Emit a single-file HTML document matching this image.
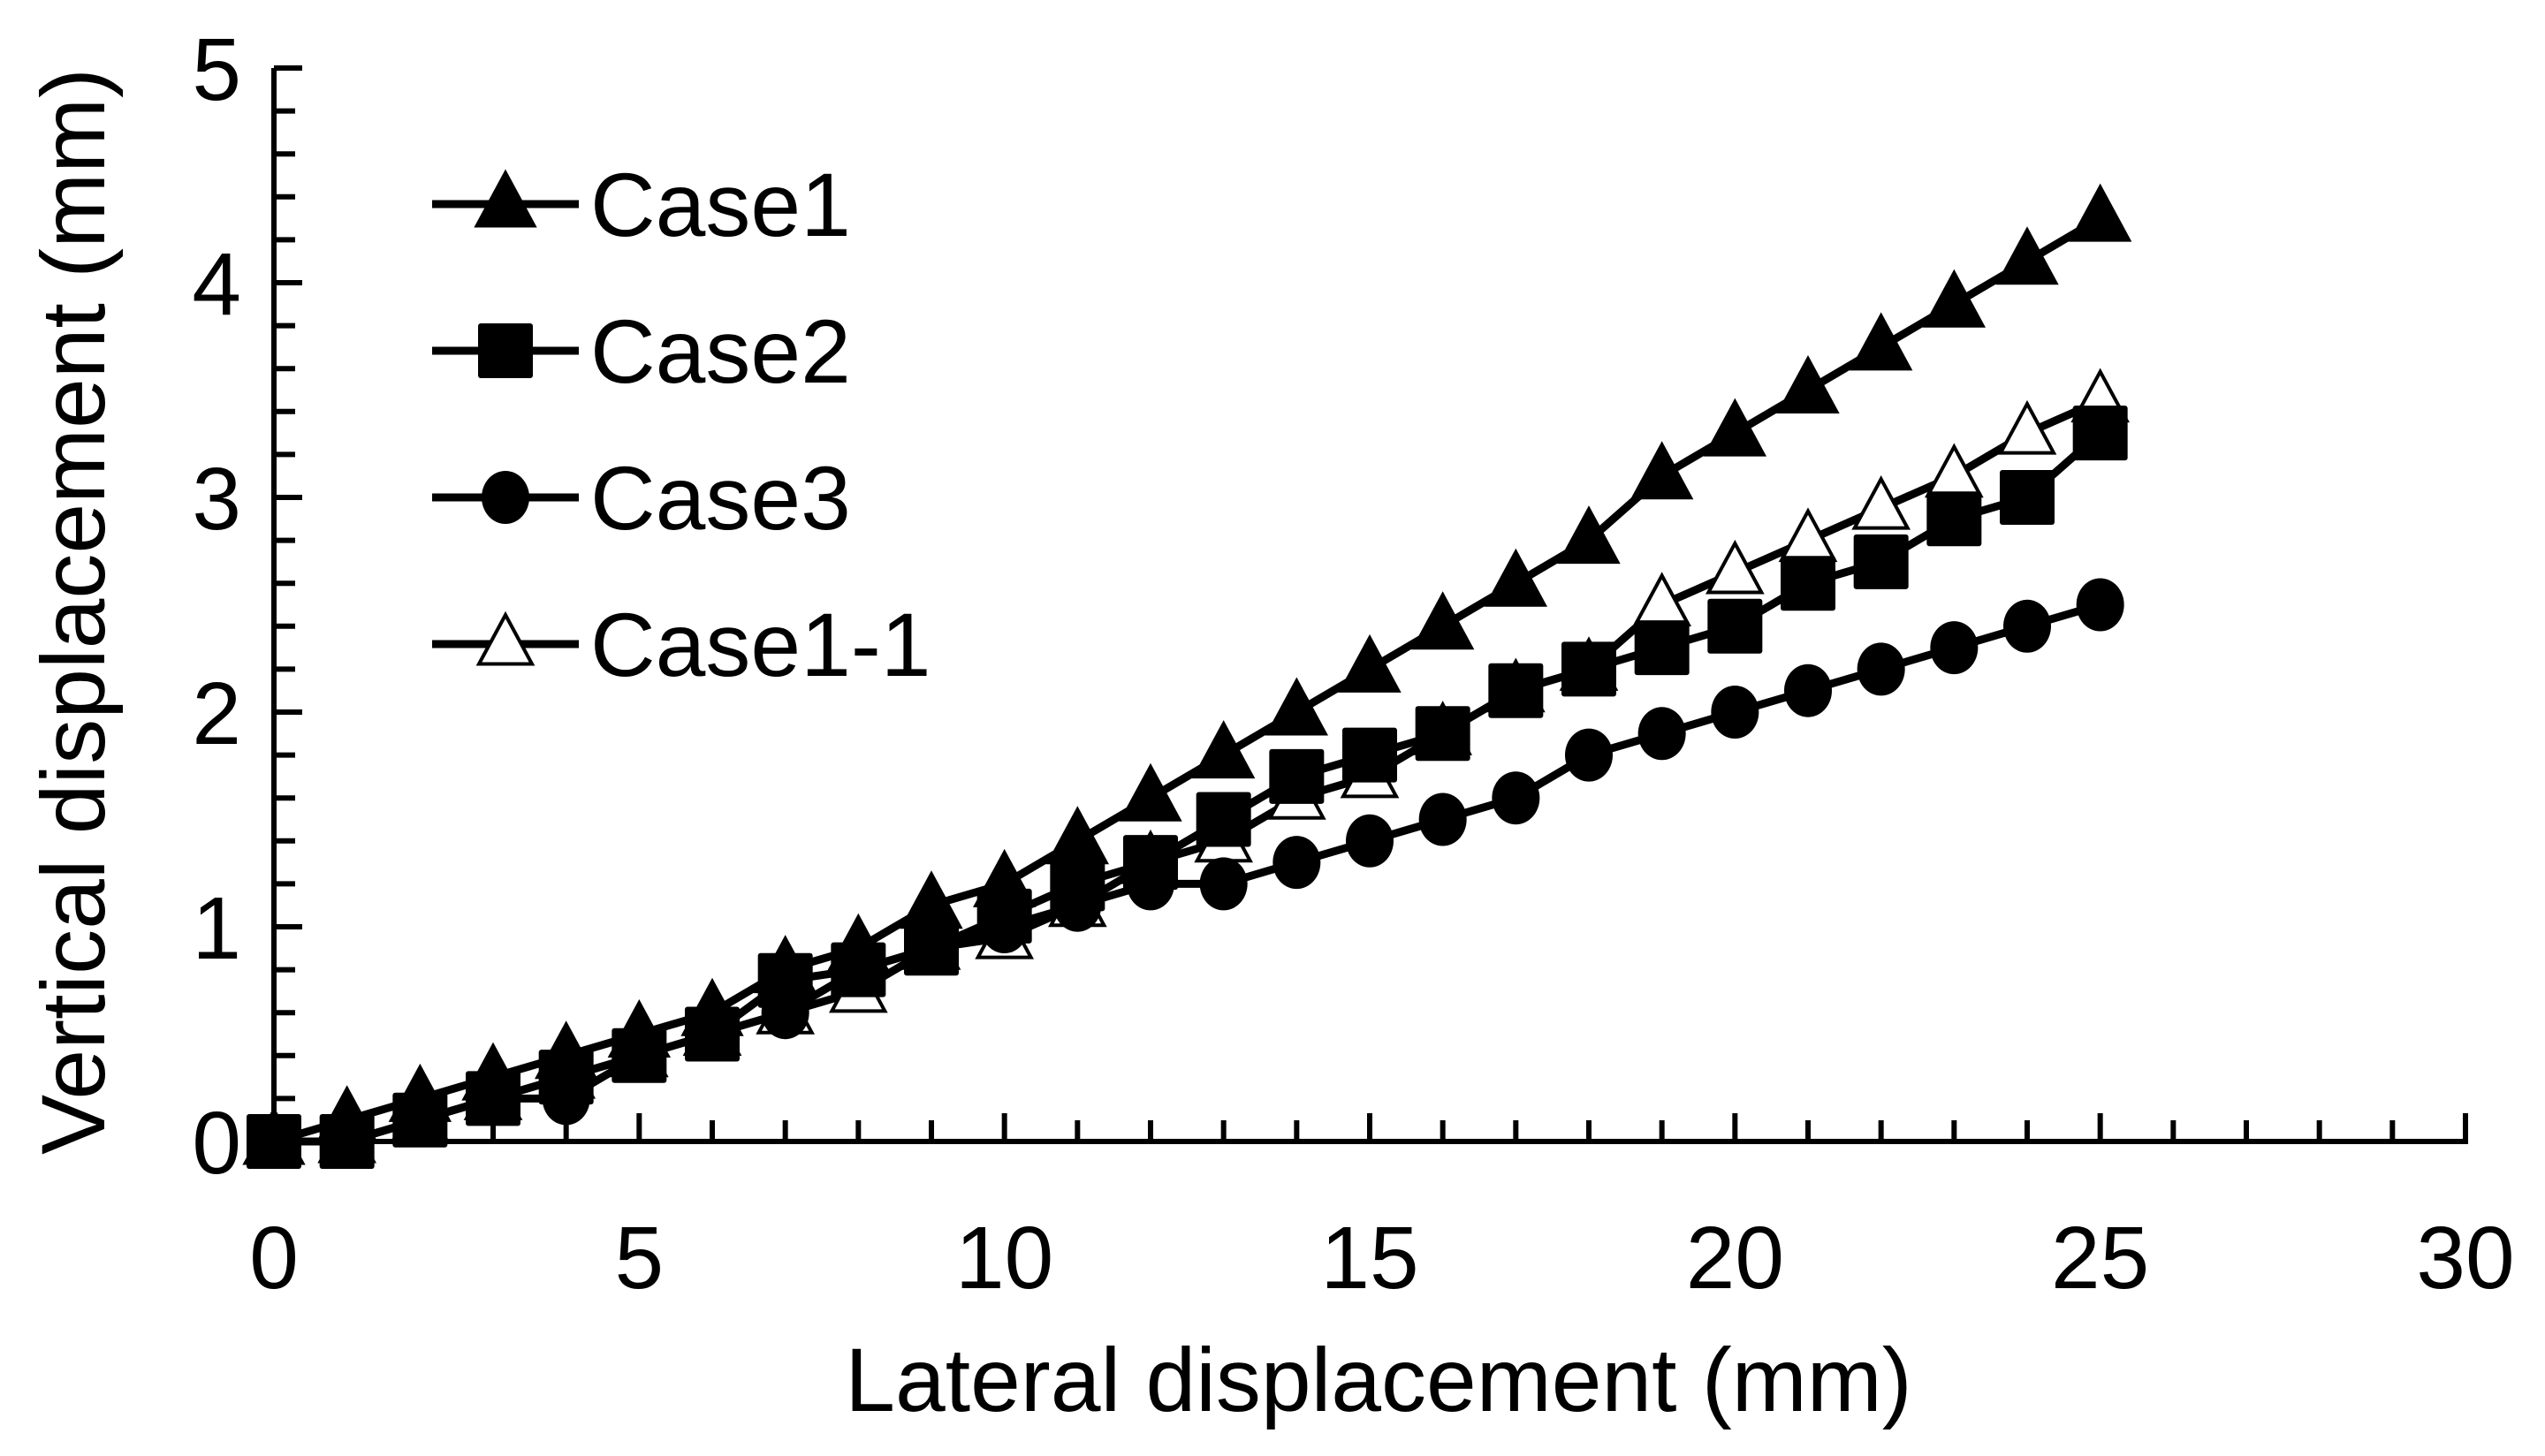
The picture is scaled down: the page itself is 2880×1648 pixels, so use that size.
<!DOCTYPE html>
<html><head><meta charset="utf-8"><style>
html,body{margin:0;padding:0;background:#fff;}
svg{display:block;font-family:"Liberation Sans",Arial,sans-serif;}
</style></head><body>
<svg id="chart" width="2880" height="1648" viewBox="0 0 2880 1648" xmlns="http://www.w3.org/2000/svg">
<g id="axes"></g>
<g id="series"></g>
<g id="legend"></g>
<text x="1560" y="1597" font-size="102" text-anchor="middle">Lateral displacement (mm)</text>
<text transform="translate(118,692) rotate(-90)" font-size="102" text-anchor="middle">Vertical displacement (mm)</text>
</svg>
<script>
const xValues=[0,1,2,3,4,5,6,7,8,9,10,11,12,13,14,15,16,17,18,19,20,21,22,23,24,25];
const case1=[0,0.1,0.2,0.3,0.4,0.5,0.6,0.8,0.9,1.1,1.2,1.4,1.6,1.8,2.0,2.2,2.4,2.6,2.8,3.1,3.3,3.5,3.7,3.9,4.1,4.3];
const case2=[0,0,0.1,0.2,0.3,0.4,0.5,0.75,0.8,0.9,1.05,1.2,1.3,1.5,1.7,1.8,1.9,2.1,2.2,2.3,2.4,2.6,2.7,2.9,3.0,3.3];
const case3=[0,0,0.1,0.2,0.2,0.4,0.5,0.6,0.8,0.9,1.0,1.1,1.2,1.2,1.3,1.4,1.5,1.6,1.8,1.9,2.0,2.1,2.2,2.3,2.4,2.5];
const case11=[0,0,0.1,0.2,0.3,0.4,0.5,0.6,0.7,0.9,0.95,1.1,1.3,1.4,1.6,1.7,1.9,2.1,2.2,2.5,2.65,2.8,2.95,3.1,3.3,3.45];
const seriesNames=["Case1","Case2","Case3","Case1-1"];
const xTickLabels=["0","5","10","15","20","25","30"];
const yTickLabels=["0","1","2","3","4","5"];
const NS="http://www.w3.org/2000/svg";
const X0=310,X1=2790,Y0=1292,Y1=77,XMAX=30,YMAX=5;
const sx=v=>X0+(X1-X0)*v/XMAX;
const sy=v=>Y0-(Y0-Y1)*v/YMAX;
function mk(tag,attrs,parent){const e=document.createElementNS(NS,tag);for(const k in attrs)e.setAttribute(k,attrs[k]);parent.appendChild(e);return e;}
const axes=document.getElementById('axes');
let e=mk('line',{x1:X0,y1:Y1,x2:X0,y2:Y0+3,stroke:'#000','stroke-width':6},axes);


e=mk('line',{x1:X0-3,y1:Y0,x2:X1+3,y2:Y0,stroke:'#000','stroke-width':6},axes);


for(let i=0;i<=XMAX;i++){const x=sx(i);const len=i%5===0?32:24;
 e=mk('line',{x1:x,y1:Y0,x2:x,y2:Y0-len,stroke:'#000','stroke-width':6},axes);
 
 }
for(let i=0;i<=YMAX*5;i++){const y=sy(i/5);const len=i%5===0?32:24;
 e=mk('line',{x1:X0,y1:y,x2:X0+len,y2:y,stroke:'#000','stroke-width':6},axes);
 
 }
xTickLabels.forEach((t,i)=>{e=mk('text',{x:sx(i*5),y:1458,'font-size':100,'text-anchor':'middle'},axes);e.textContent=t;
 
 });
yTickLabels.forEach((t,i)=>{e=mk('text',{x:273,y:sy(i)+36,'font-size':100,'text-anchor':'end'},axes);e.textContent=t;
 
 });
function marker(g,type,x,y){
 if(type==='tri'||type==='otri'){const s=type==='tri'?34:30;
  return mk('polygon',{points:`${x},${y-s*1.1} ${x-s},${y+s*0.75} ${x+s},${y+s*0.75}`,fill:type==='tri'?'#000':'#fff',stroke:'#000','stroke-width':type==='tri'?2:4},g);}
 if(type==='sq')return mk('rect',{x:x-31,y:y-31,width:62,height:62,rx:3,fill:'#000'},g);
 return mk('ellipse',{cx:x,cy:y,rx:27,ry:30,fill:'#000'},g);}
const ser=document.getElementById('series');
const sets=[[case1,'tri'],[case2,'sq'],[case3,'circ'],[case11,'otri']];
const drawOrder=[3,2,1,0];
drawOrder.forEach(k=>{const s=sets[k];const g=mk('g',{},ser);
 
 
 const pts=xValues.map((x,i)=>sx(x)+','+sy(s[0][i])).join(' ');
 const l=mk('polyline',{points:pts,fill:'none',stroke:'#000','stroke-width':9,'stroke-linejoin':'round'},g);
 
 
 xValues.forEach((x,i)=>{const m=marker(g,s[1],sx(x),sy(s[0][i]));
  
  });});
const leg=document.getElementById('legend');
const ly=[231,397,563,729];
sets.forEach((s,k)=>{const g=mk('g',{},leg);
 
 
 mk('line',{x1:489,y1:ly[k],x2:655,y2:ly[k],stroke:'#000','stroke-width':9},g);
 marker(g,s[1],572,ly[k]);
 const t=mk('text',{x:668,y:ly[k]+36,'font-size':102},g);t.textContent=seriesNames[k];});
</script>
</body></html>
